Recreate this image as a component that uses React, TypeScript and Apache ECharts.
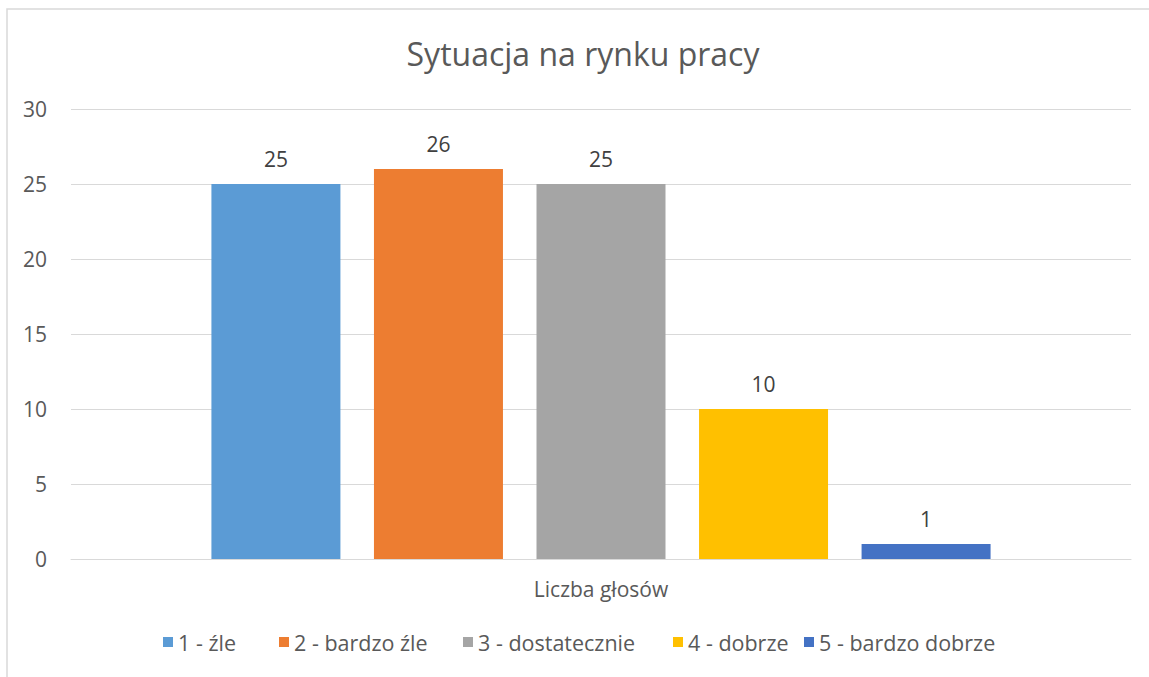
import React, { useEffect, useRef } from "react";
import * as echarts from "echarts";

const categories = ["Liczba głosów"];
const seriesNames = ["1 - źle", "2 - bardzo źle", "3 - dostatecznie", "4 - dobrze", "5 - bardzo dobrze"];
const seriesValues = [25, 26, 25, 10, 1];
const colors = ["#5B9BD5", "#ED7D31", "#A5A5A5", "#FFC000", "#4472C4"];
const legendLefts = [163, 279, 463, 673, 804];

const FONT = "'Open Sans', sans-serif";

export default function App() {
  const ref = useRef<HTMLDivElement>(null);
  useEffect(() => {
    if (!ref.current) return;
    const chart = echarts.init(ref.current, null, { renderer: "svg" });
    chart.setOption({
      animation: false,
      backgroundColor: "#ffffff",
      textStyle: { fontFamily: FONT },
      title: {
        text: "Sytuacja na rynku pracy",
        left: 583,
        top: 37,
        textAlign: "center",
        padding: 0,
        textStyle: { fontFamily: FONT, fontSize: 32, fontWeight: "normal", color: "#595959" },
      },
      graphic: [
        {
          type: "rect",
          shape: { x: 7, y: 9, width: 1300, height: 800 },
          style: { fill: "none", stroke: "#d9d9d9", lineWidth: 1.5 },
          silent: true,
        },
      ],
      legend: seriesNames.map((n, i) => ({
        data: [n],
        left: legendLefts[i],
        top: 631,
        padding: 0,
        itemWidth: 10,
        itemHeight: 10,
        itemGap: 0,
        icon: "rect",
        textStyle: { fontFamily: FONT, fontSize: 21.5, color: "#595959" },
      })),
      grid: { left: 71, right: 18, top: 109, bottom: 118 },
      xAxis: {
        type: "category",
        data: categories,
        axisLine: { show: true, lineStyle: { color: "#d9d9d9", width: 1 } },
        axisTick: { show: false },
        axisLabel: { fontFamily: FONT, fontSize: 21, color: "#595959", margin: 19 },
      },
      yAxis: {
        type: "value",
        min: 0,
        max: 30,
        interval: 5,
        axisLine: { show: false },
        axisTick: { show: false },
        splitLine: { lineStyle: { color: "#d9d9d9", width: 1 } },
        axisLabel: { fontFamily: FONT, fontSize: 21, color: "#595959", margin: 24 },
      },
      series: seriesNames.map((n, i) => ({
        name: n,
        type: "bar",
        data: [seriesValues[i]],
        barWidth: 129,
        barGap: "26%",
        itemStyle: { color: colors[i] },
        label: {
          show: true,
          position: "top",
          distance: 15,
          fontFamily: FONT,
          fontSize: 21,
          color: "#404040",
        },
      })),
    });
    return () => chart.dispose();
  }, []);
  return (
    <div
      ref={ref}
      style={{ position: "fixed", left: 0, top: 0, width: 1149, height: 677 }}
    />
  );
}
